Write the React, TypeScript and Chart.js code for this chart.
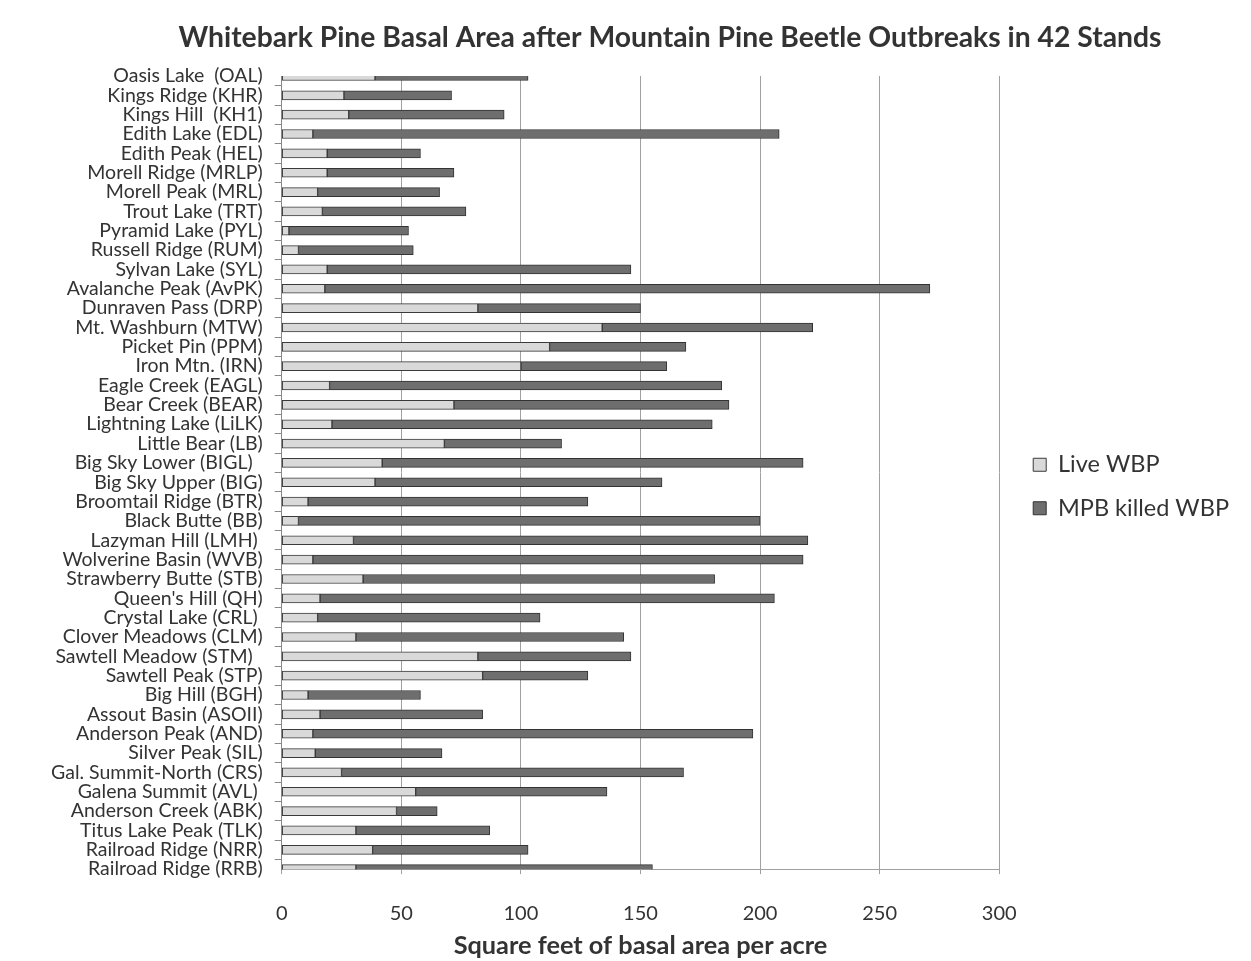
import React, { useEffect, useRef } from "react";
import { Chart, registerables } from "chart.js";

Chart.register(...registerables);

const chartTitle = "Whitebark Pine Basal Area after Mountain Pine Beetle Outbreaks in 42 Stands";
const xAxisTitle = "Square feet of basal area per acre";
const seriesNames = ["Live WBP", "MPB killed WBP"];

const stands = [
  "Oasis Lake  (OAL)",
  "Kings Ridge (KHR)",
  "Kings Hill  (KH1)",
  "Edith Lake (EDL)",
  "Edith Peak (HEL)",
  "Morell Ridge (MRLP)",
  "Morell Peak (MRL)",
  "Trout Lake (TRT)",
  "Pyramid Lake (PYL)",
  "Russell Ridge (RUM)",
  "Sylvan Lake (SYL)",
  "Avalanche Peak (AvPK)",
  "Dunraven Pass (DRP)",
  "Mt. Washburn (MTW)",
  "Picket Pin (PPM)",
  "Iron Mtn. (IRN)",
  "Eagle Creek (EAGL)",
  "Bear Creek (BEAR)",
  "Lightning Lake (LiLK)",
  "Little Bear (LB)",
  "Big Sky Lower (BIGL)  ",
  "Big Sky Upper (BIG)",
  "Broomtail Ridge (BTR)",
  "Black Butte (BB)",
  "Lazyman Hill (LMH) ",
  "Wolverine Basin (WVB)",
  "Strawberry Butte (STB)",
  "Queen's Hill (QH)",
  "Crystal Lake (CRL) ",
  "Clover Meadows (CLM)",
  "Sawtell Meadow (STM)  ",
  "Sawtell Peak (STP)",
  "Big Hill (BGH)",
  "Assout Basin (ASOII)",
  "Anderson Peak (AND)",
  "Silver Peak (SIL)",
  "Gal. Summit-North (CRS)",
  "Galena Summit (AVL) ",
  "Anderson Creek (ABK)",
  "Titus Lake Peak (TLK)",
  "Railroad Ridge (NRR)",
  "Railroad Ridge (RRB)",
];

const liveWBP = [
  39, 26, 28, 13, 19, 19, 15, 17, 3, 7,
  19, 18, 82, 134, 112, 100, 20, 72, 21, 68,
  42, 39, 11, 7, 30, 13, 34, 16, 15, 31,
  82, 84, 11, 16, 13, 14, 25, 56, 48, 31,
  38, 31,
];

const killedWBP = [
  64, 45, 65, 195, 39, 53, 51, 60, 50, 48,
  127, 253, 68, 88, 57, 61, 164, 115, 159, 49,
  176, 120, 117, 193, 190, 205, 147, 190, 93, 112,
  64, 44, 47, 68, 184, 53, 143, 80, 17, 56,
  65, 124,
];

const xTicks = [0, 50, 100, 150, 200, 250, 300];

const FONT = "Lato, 'Open Sans', sans-serif";
const TEXT = "#333333";

const titlePlugin = {
  id: "customTitle",
  afterDraw(chart: any) {
    const ctx = chart.ctx;
    ctx.save();
    ctx.font = `bold 28.3px ${FONT}`;
    ctx.fillStyle = TEXT;
    ctx.textAlign = "center";
    ctx.textBaseline = "middle";
    ctx.fillText(chartTitle, 662, 30);
    ctx.restore();
  },
};

const legendShiftPlugin = {
  id: "legendShift",
  afterLayout(chart: any) {
    const lg = chart.legend;
    if (!lg) return;
    lg.left += 14;
    lg.right += 14;
    lg.top -= 32;
    lg.bottom -= 32;
  },
};

export default function App() {
  const ref = useRef<HTMLCanvasElement | null>(null);

  useEffect(() => {
    if (!ref.current) return;
    const chart = new Chart(ref.current, {
      type: "bar",
      data: {
        labels: stands,
        datasets: [
          {
            label: seriesNames[0],
            data: liveWBP,
            backgroundColor: "#d9d9d9",
            borderColor: "#3a3a3a",
            borderWidth: 1,
            borderSkipped: false,
            barThickness: 9,
          },
          {
            label: seriesNames[1],
            data: killedWBP,
            backgroundColor: "#6e6e6e",
            borderColor: "#333333",
            borderWidth: 1,
            borderSkipped: false,
            barThickness: 9,
          },
        ],
      },
      options: {
        indexAxis: "y",
        animation: false,
        responsive: false,
        maintainAspectRatio: false,
        layout: { padding: { top: 68, bottom: 0, left: 31, right: 26 } },
        plugins: {
          title: { display: false },
          tooltip: { enabled: false },
          legend: {
            position: "right",
            labels: {
              font: { family: FONT, size: 23.5 },
              color: TEXT,
              boxWidth: 13,
              boxHeight: 13,
              padding: 20,
            },
          },
        },
        scales: {
          x: {
            stacked: true,
            min: 0,
            max: 300,
            afterBuildTicks: (axis: any) => {
              axis.ticks = xTicks.map((v) => ({ value: v }));
            },
            grid: {
              color: "#a0a0a0",
              lineWidth: 1,
              drawTicks: true,
              tickLength: 5,
            },
            border: { display: true, color: "#a0a0a0" },
            ticks: {
              font: { family: FONT, size: 20 },
              color: TEXT,
              padding: 27,
              maxRotation: 0,
            },
            title: {
              display: true,
              text: xAxisTitle,
              font: { family: FONT, size: 25.3, weight: "bold" },
              color: TEXT,
              padding: { top: -21.5, bottom: 0 },
            },
          },
          y: {
            stacked: true,
            offset: false,
            grid: {
              display: true,
              drawOnChartArea: false,
              drawTicks: true,
              tickLength: 7,
              color: "#888888",
            },
            border: { display: true, color: "#888888" },
            ticks: {
              autoSkip: false,
              font: { family: FONT, size: 19.5 },
              color: TEXT,
              padding: 12,
            },
          },
        },
      },
      plugins: [titlePlugin, legendShiftPlugin],
    });
    return () => chart.destroy();
  }, []);

  return (
    <div
      style={{
        width: 1262,
        height: 968,
        marginLeft: -1,
        marginTop: -1,
        borderLeft: "1px solid #555",
        borderTop: "1px solid #555",
        background: "#fff",
      }}
    >
      <canvas ref={ref} width={1243} height={953} style={{ display: "block" }} />
    </div>
  );
}
